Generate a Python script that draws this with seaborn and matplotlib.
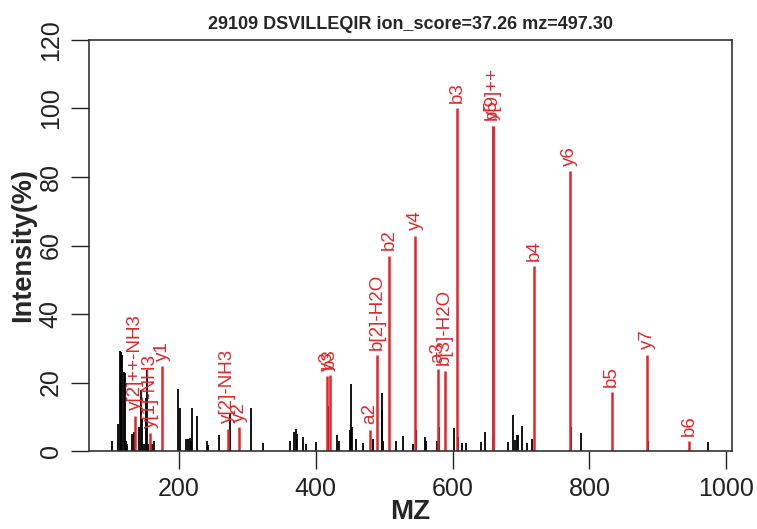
import numpy as np
import pandas as pd
import seaborn as sns
import matplotlib
matplotlib.use("Agg")
import matplotlib.pyplot as plt

# unassigned peaks (black)
black_mz = [102.5, 110.4, 114.2, 115.6, 117.1, 120.0, 121.0, 122.5, 124.0, 131.7,
            133.8, 141.5, 145.0, 146.3, 149.3, 151.3, 153.7, 155.1, 161.0, 163.9,
            199.0, 201.5, 210.2, 212.7, 215.6, 217.5, 219.5, 226.8, 240.5, 242.0,
            258.5, 274.1, 305.3, 323.3, 362.3, 368.6, 370.6, 372.0, 380.8, 385.4,
            399.8, 418.3, 431.4, 433.9, 450.0, 451.5, 452.9, 458.8, 469.5, 483.2,
            496.3, 497.3, 498.7, 517.3, 527.0, 542.6, 547.0, 559.6, 561.6, 576.6,
            580.6, 602.5, 607.5, 613.3, 619.6, 641.0, 647.4, 659.5, 680.5, 688.7,
            691.2, 693.7, 695.1, 701.9, 708.8, 716.6, 773.1, 787.7, 886.1, 972.9]
black_int = [2.9, 7.9, 29.1, 28.9, 28.0, 23.1, 22.8, 3.0, 2.0, 5.0,
             5.5, 6.9, 17.9, 9.6, 2.0, 15.6, 23.8, 2.0, 2.0, 3.0,
             18.0, 12.5, 3.6, 3.6, 3.8, 3.0, 12.5, 10.3, 2.8, 1.9,
             4.8, 10.8, 12.5, 2.3, 2.8, 5.5, 6.5, 5.0, 4.0, 2.1,
             2.5, 13.2, 4.8, 2.8, 6.0, 19.7, 6.9, 3.6, 2.3, 3.6,
             16.8, 12.0, 3.0, 2.8, 4.5, 2.1, 6.0, 4.0, 3.0, 2.8,
             6.9, 6.6, 4.2, 2.3, 2.3, 2.6, 5.7, 4.2, 2.6, 10.6,
             3.1, 4.7, 4.7, 7.4, 2.3, 3.6, 7.1, 5.3, 2.8, 2.6]

# matched fragment ions (red)
ion_labels = ["y[2]++-NH3", "y[1]-NH3", "y1", "y[2]-NH3", "y2", "y3", "b3",
              "a2", "b[2]-H2O", "b2", "y4", "a3", "b[3]-H2O", "b3", "y5",
              "b[9]++", "b4", "y6", "b5", "y7", "b6"]
ion_mz = [136.1, 158.1, 175.1, 271.2, 288.2, 416.3, 420.3,
          479.3, 489.3, 507.3, 545.3, 578.4, 588.3, 606.3, 658.4,
          658.4, 719.4, 771.5, 832.5, 884.6, 945.6]
ion_int = [10.3, 5.2, 24.7, 6.5, 6.9, 21.8, 22.2,
           6.2, 27.9, 57.0, 62.8, 24.0, 23.5, 100.0, 95.0,
           95.0, 54.0, 81.7, 17.1, 28.1, 2.8]

peaks = pd.DataFrame({"mz": black_mz, "int": black_int})
ions = pd.DataFrame({"label": ion_labels, "mz": ion_mz, "int": ion_int})

sns.set_theme(style="ticks")
plt.rcParams["font.family"] = ["Liberation Sans", "DejaVu Sans"]

red = "#e3262b"
fig = plt.figure(figsize=(7.57, 5.29), dpi=100)
ax = fig.add_axes([0.1176, 0.1474, 0.8494, 0.777])

ax.vlines(peaks["mz"], 0, peaks["int"], color="black", lw=1.3)
ax.vlines(ions["mz"], 0, ions["int"], color=red, lw=1.8)
for _, r in ions.iterrows():
    ax.annotate(r["label"], (r["mz"], r["int"]), xytext=(0, 4),
                textcoords="offset points", rotation=90, ha="center",
                va="bottom", color=red, fontsize=13.5)

ax.set_xlim(68.4, 1008.5)
ax.set_ylim(0, 120)
ax.set_xticks([200, 400, 600, 800, 1000])
ax.set_yticks([0, 20, 40, 60, 80, 100, 120])
ax.set_yticklabels([0, 20, 40, 60, 80, 100, 120], rotation=90, va="center")
ax.tick_params(direction="out", length=13, width=1, labelsize=18,
               colors="#222222", pad=6)
for s in ax.spines.values():
    s.set_linewidth(1.2)
    s.set_color("#333333")

ax.set_xlabel("MZ", fontsize=20, fontweight="bold", labelpad=-2)
ax.set_ylabel("Intensity(%)", fontsize=19.5, fontweight="bold", labelpad=2)
ax.set_title("29109 DSVILLEQIR ion_score=37.26 mz=497.30", fontsize=13,
             fontweight="bold", pad=8)

fig.savefig("out.png", dpi=100)
